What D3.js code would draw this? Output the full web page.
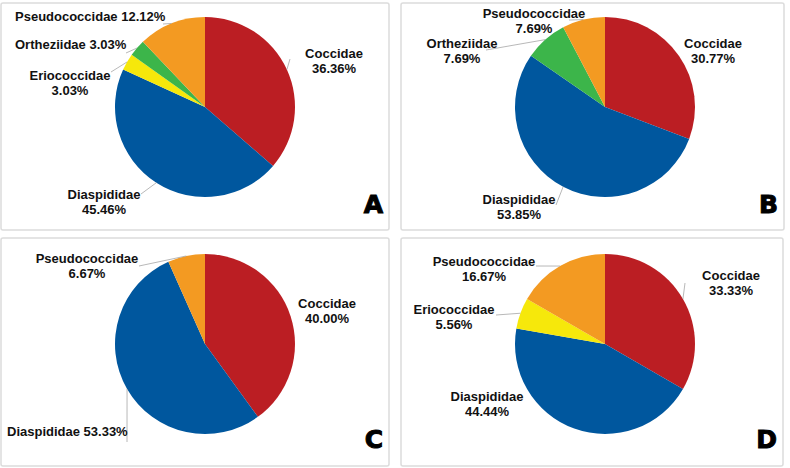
<!DOCTYPE html>
<html>
<head>
<meta charset="utf-8">
<script src="https://cdn.jsdelivr.net/npm/d3@7"></script>
<style>
  body { margin: 0; background: #fff; }
  svg { display: block; }
</style>
</head>
<body>
<div id="chart"></div>
<script>
// families in drawing order (clockwise from 12 o'clock)
const families = ["Coccidae", "Diaspididae", "Eriococcidae", "Ortheziidae", "Pseudococcidae"];
const panelNames = ["A", "B", "C", "D"];
const valuesA = [36.36, 45.46, 3.03, 3.03, 12.12];
const valuesB = [30.77, 53.85, 0, 7.69, 7.69];
const valuesC = [40.00, 53.33, 0, 0, 6.67];
const valuesD = [33.33, 44.44, 5.56, 0, 16.67];
const allValues = [valuesA, valuesB, valuesC, valuesD];

const colors = d3.scaleOrdinal()
  .domain(families)
  .range(["#bb1e23", "#00579e", "#f6e80b", "#3cb54a", "#f39a22"]);

const width = 790, height = 468;
const radius = 90;

// panel boxes and pie centers
const panels = [
  { box: [1, 3, 388, 227], cx: 205, cy: 107 },
  { box: [401, 3, 383, 227], cx: 605, cy: 107 },
  { box: [1, 238, 388, 228], cx: 205, cy: 344 },
  { box: [401, 238, 382, 228], cx: 605, cy: 344 }
];

// label layout per panel: family -> {x, y (first baseline), lines, anchor, line end}
const labelLayout = [
  {
    Coccidae: { x: 334, y: 58, two: true, lead: [290, 59] },
    Diaspididae: { x: 104, y: 199, two: true, lead: [141, 194] },
    Eriococcidae: { x: 70, y: 80, two: true, lead: [111, 72] },
    Ortheziidae: { x: 15, y: 49, two: false, anchor: "start", lead: [126, 53] },
    Pseudococcidae: { x: 15, y: 21, two: false, anchor: "start", lead: [163, 24] }
  },
  {
    Coccidae: { x: 713, y: 48, two: true },
    Diaspididae: { x: 519, y: 204, two: true, lead: [556, 205] },
    Ortheziidae: { x: 462, y: 48, two: true, lead: [486, 50] },
    Pseudococcidae: { x: 534, y: 18, two: true, lead: [569, 20] }
  },
  {
    Coccidae: { x: 327, y: 308, two: true },
    Diaspididae: { x: 7, y: 436, two: false, anchor: "start", lead: [127, 442] },
    Pseudococcidae: { x: 87, y: 263, two: true, lead: [139, 266] }
  },
  {
    Coccidae: { x: 731, y: 280, two: true, lead: [685, 283] },
    Diaspididae: { x: 487, y: 401, two: true },
    Eriococcidae: { x: 454, y: 314, two: true, lead: [496, 315] },
    Pseudococcidae: { x: 484, y: 266, two: true, lead: [536, 266] }
  }
];

const svg = d3.select("#chart")
  .append("svg")
  .attr("width", width)
  .attr("height", height);

const pie = d3.pie().sort(null).value(d => d.value);
const arc = d3.arc().innerRadius(0).outerRadius(radius);

panels.forEach((p, i) => {
  const data = families.map((f, j) => ({ name: f, value: allValues[i][j] }));

  svg.append("rect")
    .attr("x", p.box[0]).attr("y", p.box[1])
    .attr("width", p.box[2]).attr("height", p.box[3])
    .attr("rx", 2)
    .attr("fill", "#fff")
    .attr("stroke", "#dcdcdc")
    .attr("stroke-width", 1.5);

  const g = svg.append("g")
    .attr("transform", `translate(${p.cx},${p.cy})`);

  const arcs = pie(data).filter(d => d.data.value > 0);

  g.selectAll("path")
    .data(arcs)
    .enter()
    .append("path")
    .attr("d", arc)
    .attr("fill", d => colors(d.data.name));

  const layout = labelLayout[i];

  // leader lines from slice edge midpoint to label
  arcs.forEach(d => {
    const lab = layout[d.data.name];
    if (!lab || !lab.lead) return;
    const mid = (d.startAngle + d.endAngle) / 2;
    const ex = p.cx + radius * Math.sin(mid);
    const ey = p.cy - radius * Math.cos(mid);
    svg.append("line")
      .attr("x1", ex).attr("y1", ey)
      .attr("x2", lab.lead[0]).attr("y2", lab.lead[1])
      .attr("stroke", "#a6a6a6")
      .attr("stroke-width", 0.8);
  });

  arcs.forEach(d => {
    const lab = layout[d.data.name];
    if (!lab) return;
    const pct = d.data.value.toFixed(2) + "%";
    const t = svg.append("text")
      .attr("x", lab.x).attr("y", lab.y)
      .attr("text-anchor", lab.anchor || "middle")
      .attr("font-family", "'Liberation Sans', Arial, sans-serif")
      .attr("font-weight", "bold")
      .attr("font-size", "13px")
      .attr("fill", "#111");
    if (lab.two) {
      t.append("tspan").attr("x", lab.x).text(d.data.name);
      t.append("tspan").attr("x", lab.x).attr("dy", 15).text(pct);
    } else {
      t.text(d.data.name + " " + pct);
    }
  });

  // panel letter
  svg.append("text")
    .attr("x", p.box[0] + p.box[2] - 6)
    .attr("y", p.box[1] + 210)
    .attr("text-anchor", "end")
    .attr("font-family", "'DejaVu Sans', sans-serif")
    .attr("font-weight", "bold")
    .attr("font-size", "25px")
    .attr("stroke", "#000")
    .attr("stroke-width", 1)
    .attr("fill", "#000")
    .text(panelNames[i]);
});
</script>
</body>
</html>
